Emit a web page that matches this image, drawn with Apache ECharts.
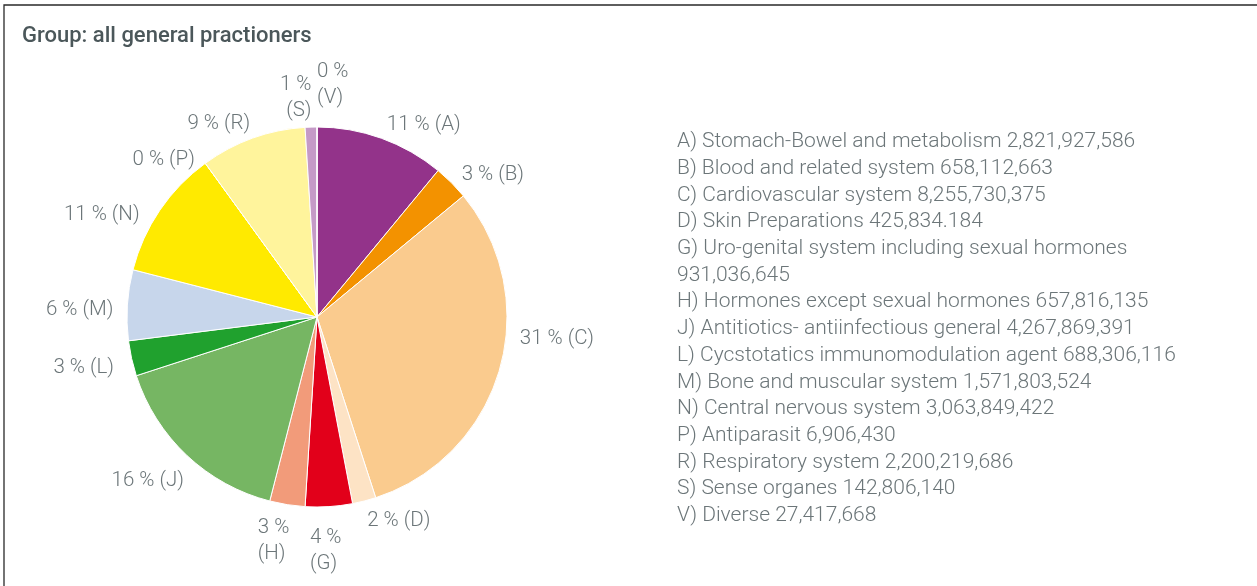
<!DOCTYPE html>
<html>
<head>
<meta charset="utf-8">
<script src="https://cdn.jsdelivr.net/npm/echarts@6/dist/echarts.min.js"></script>
<style>
html,body{margin:0;padding:0;background:#fff;}
#c{width:1257px;height:586px;}
</style>
</head>
<body>
<div id="c"></div>
<script>
const titleText = 'Group: all general practioners';
const codes = ['A','B','C','D','G','H','J','L','M','N','P','R','S','V'];
const names = [
  'Stomach-Bowel and metabolism',
  'Blood and related system',
  'Cardiovascular system',
  'Skin Preparations',
  'Uro-genital system including sexual hormones',
  'Hormones except sexual hormones',
  'Antitiotics- antiinfectious general',
  'Cycstotatics immunomodulation agent',
  'Bone and muscular system',
  'Central nervous system',
  'Antiparasit',
  'Respiratory system',
  'Sense organes',
  'Diverse'
];
const valueText = ['2,821,927,586','658,112,663','8,255,730,375','425,834.184','931,036,645','657,816,135','4,267,869,391','688,306,116','1,571,803,524','3,063,849,422','6,906,430','2,200,219,686','142,806,140','27,417,668'];
const percents = [11, 3, 31, 2, 4, 3, 16, 3, 6, 11, 0, 9, 1, 0];
const colors = ['#93338a','#f39200','#facb8e','#fde3c5','#e2001a','#f29b7a','#76b663','#20a12e','#c7d6eb','#ffea00','#f7d76a','#fff49c','#c59ac7','#a0a0a0'];
const twoLine = ['G','H','S','V'];

const listLines = codes.map((c, i) => {
  if (c === 'G') return c + ') ' + names[i] + '\n' + valueText[i];
  return c + ') ' + names[i] + ' ' + valueText[i];
});

// small label nudges (style only)
const labelNudge = {
  A: {dx: -5, dy: 2}, B: {dx: -6, dy: 4}, C: {dx: 0, dy: -36}, D: {dx: -6, dy: 4},
  G: {dx: -25, dy: 28, align: 'left'}, H: {dx: -22, dy: 20, align: 'left'},
  J: {dx: 13, dy: 14}, L: {dx: 3, dy: 6}, M: {dx: 7, dy: 6}, N: {dx: -2, dy: 14},
  P: {dx: 4, dy: 10}, R: {dx: 8, dy: 1}, S: {dx: 6, dy: -13}, V: {dx: 5, dy: -26, align: 'left'}
};

const chart = echarts.init(document.getElementById('c'), null, {renderer: 'canvas'});
const labelColor = '#6c7679';
chart.setOption({
  animation: false,
  backgroundColor: '#fff',
  title: [
    {
      text: titleText, left: 17, top: 19,
      textStyle: {fontFamily: 'Roboto', fontSize: 22, fontWeight: 500, color: '#4b575a', lineHeight: 24}
    },
    {
      text: listLines.join('\n'), left: 672, top: 123.5,
      textStyle: {fontFamily: 'Roboto', fontSize: 21, fontWeight: 300, color: labelColor, lineHeight: 26.72}
    }
  ],
  graphic: [{
    type: 'polyline',
    shape: {points: [[4, 586], [4, 5], [1257, 5]]},
    style: {stroke: '#2a2a2a', lineWidth: 1.3, fill: null}
  }],
  series: [{
    type: 'pie',
    center: [317, 317],
    radius: 190,
    startAngle: 90,
    clockwise: true,
    avoidLabelOverlap: false,
    minShowLabelAngle: -1,
    itemStyle: {borderColor: '#fff', borderWidth: 1},
    label: {
      show: true, position: 'outside',
      fontFamily: 'Roboto', fontSize: 20.5, fontWeight: 300, color: labelColor, lineHeight: 26,
      formatter: p => {
        const i = p.dataIndex;
        return twoLine.includes(codes[i]) ? percents[i] + ' %\n(' + codes[i] + ')' : percents[i] + ' % (' + codes[i] + ')';
      }
    },
    labelLine: {show: false, length: 16, length2: 0},
    labelLayout: p => {
      const n = labelNudge[codes[p.dataIndex]] || {};
      const o = {dx: n.dx || 0, dy: n.dy || 0};
      if (n.align) o.align = n.align;
      return o;
    },
    data: codes.map((c, i) => ({name: c, value: percents[i], itemStyle: {color: colors[i]}}))
  }]
});
</script>
</body>
</html>
